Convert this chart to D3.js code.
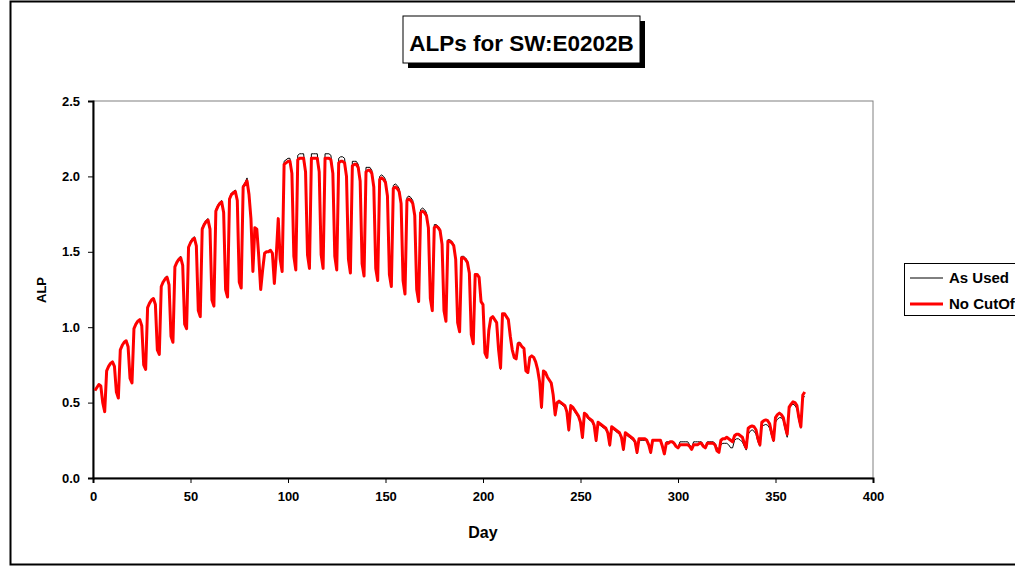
<!DOCTYPE html>
<html>
<head>
<meta charset="utf-8">
<script src="https://cdn.jsdelivr.net/npm/d3@7"></script>
<style>
  body { margin: 0; background: #fff; }
  svg text { font-family: Arial, "Liberation Sans", sans-serif; font-weight: bold; }
</style>
</head>
<body>
<svg id="chart" width="1015" height="567"></svg>
<script>
// days 1..365, one row per week (Mon..Sun), week 0 starts on day 1
const asUsed = [
  0.58, 0.60, 0.62, 0.61, 0.50, 0.44,
  0.71, 0.74, 0.76, 0.77, 0.74, 0.57, 0.53,
  0.85, 0.88, 0.90, 0.91, 0.87, 0.66, 0.63,
  0.99, 1.02, 1.04, 1.05, 1.01, 0.75, 0.72,
  1.13, 1.16, 1.18, 1.19, 1.15, 0.85, 0.82,
  1.27, 1.30, 1.33, 1.34, 1.28, 0.94, 0.90,
  1.40, 1.43, 1.46, 1.47, 1.41, 1.02, 0.99,
  1.53, 1.57, 1.59, 1.60, 1.54, 1.11, 1.07,
  1.66, 1.69, 1.71, 1.72, 1.65, 1.18, 1.14,
  1.78, 1.81, 1.83, 1.84, 1.76, 1.25, 1.20,
  1.86, 1.89, 1.90, 1.91, 1.84, 1.30, 1.26,
  1.94, 1.96, 1.99, 1.89, 1.72, 1.37, 1.66,
  1.65, 1.47, 1.25, 1.38, 1.49, 1.50, 1.50,
  1.51, 1.49, 1.29, 1.48, 1.72, 1.45, 1.37,
  2.10, 2.11, 2.12, 2.12, 2.02, 1.47, 1.38,
  2.14, 2.15, 2.15, 2.15, 2.03, 1.48, 1.39,
  2.15, 2.15, 2.15, 2.15, 2.03, 1.48, 1.39,
  2.15, 2.15, 2.15, 2.14, 2.02, 1.47, 1.38,
  2.12, 2.13, 2.13, 2.12, 2.00, 1.45, 1.36,
  2.10, 2.10, 2.10, 2.08, 1.97, 1.42, 1.34,
  2.06, 2.06, 2.06, 2.04, 1.93, 1.39, 1.31,
  2.00, 2.01, 2.00, 1.98, 1.87, 1.35, 1.27,
  1.94, 1.95, 1.94, 1.92, 1.82, 1.31, 1.22,
  1.86, 1.87, 1.86, 1.84, 1.74, 1.25, 1.17,
  1.78, 1.79, 1.78, 1.76, 1.66, 1.19, 1.11,
  1.68, 1.68, 1.67, 1.65, 1.55, 1.11, 1.04,
  1.58, 1.58, 1.57, 1.55, 1.45, 1.03, 0.97,
  1.47, 1.47, 1.46, 1.44, 1.36, 0.95, 0.89,
  1.35, 1.35, 1.33, 1.17, 1.15, 0.83, 0.80,
  0.98, 1.06, 1.07, 1.05, 1.03, 0.85, 0.72,
  1.09, 1.09, 1.07, 1.05, 0.94, 0.85, 0.79,
  0.80, 0.90, 0.90, 0.87, 0.86, 0.71, 0.69,
  0.80, 0.81, 0.80, 0.77, 0.72, 0.63, 0.46,
  0.71, 0.70, 0.67, 0.65, 0.63, 0.54, 0.41,
  0.49, 0.50, 0.49, 0.48, 0.47, 0.43, 0.31,
  0.47, 0.46, 0.44, 0.42, 0.40, 0.36, 0.26,
  0.42, 0.41, 0.39, 0.38, 0.37, 0.34, 0.24,
  0.36, 0.35, 0.34, 0.33, 0.32, 0.29, 0.21,
  0.33, 0.32, 0.31, 0.30, 0.29, 0.26, 0.18,
  0.29, 0.28, 0.27, 0.26, 0.25, 0.23, 0.16,
  0.25, 0.25, 0.25, 0.25, 0.25, 0.22, 0.16,
  0.25, 0.25, 0.25, 0.25, 0.25, 0.21, 0.16,
  0.24, 0.24, 0.24, 0.24, 0.24, 0.21, 0.20,
  0.24, 0.24, 0.24, 0.24, 0.24, 0.22, 0.20,
  0.24, 0.24, 0.24, 0.24, 0.24, 0.22, 0.20,
  0.24, 0.24, 0.24, 0.24, 0.23, 0.20, 0.19,
  0.22, 0.23, 0.23, 0.23, 0.22, 0.20, 0.20,
  0.25, 0.26, 0.26, 0.25, 0.24, 0.21, 0.185,
  0.29, 0.31, 0.32, 0.31, 0.29, 0.24, 0.21,
  0.34, 0.35, 0.355, 0.35, 0.33, 0.28, 0.24,
  0.37, 0.39, 0.40, 0.40, 0.38, 0.32, 0.27,
  0.46, 0.48, 0.49, 0.48, 0.46, 0.38, 0.33,
  0.535, 0.54
];

const noCutOff = [
  0.58, 0.60, 0.62, 0.61, 0.50, 0.44,
  0.71, 0.74, 0.76, 0.77, 0.74, 0.57, 0.53,
  0.85, 0.88, 0.90, 0.91, 0.87, 0.66, 0.63,
  0.99, 1.02, 1.04, 1.05, 1.01, 0.75, 0.72,
  1.13, 1.16, 1.18, 1.19, 1.15, 0.85, 0.82,
  1.27, 1.30, 1.32, 1.33, 1.28, 0.94, 0.90,
  1.40, 1.43, 1.45, 1.46, 1.41, 1.02, 0.99,
  1.53, 1.56, 1.58, 1.59, 1.54, 1.11, 1.07,
  1.65, 1.68, 1.70, 1.71, 1.65, 1.18, 1.14,
  1.77, 1.80, 1.82, 1.83, 1.76, 1.25, 1.20,
  1.85, 1.88, 1.89, 1.90, 1.84, 1.30, 1.26,
  1.93, 1.95, 1.97, 1.88, 1.72, 1.37, 1.66,
  1.65, 1.47, 1.25, 1.38, 1.49, 1.50, 1.50,
  1.51, 1.49, 1.29, 1.48, 1.72, 1.45, 1.37,
  2.08, 2.09, 2.10, 2.10, 2.02, 1.47, 1.38,
  2.11, 2.12, 2.12, 2.12, 2.03, 1.48, 1.39,
  2.12, 2.12, 2.12, 2.12, 2.03, 1.48, 1.39,
  2.12, 2.12, 2.12, 2.11, 2.02, 1.47, 1.38,
  2.09, 2.10, 2.10, 2.09, 2.00, 1.45, 1.36,
  2.07, 2.08, 2.08, 2.06, 1.97, 1.42, 1.34,
  2.03, 2.04, 2.04, 2.02, 1.93, 1.39, 1.31,
  1.98, 1.99, 1.98, 1.96, 1.87, 1.35, 1.27,
  1.92, 1.93, 1.92, 1.90, 1.82, 1.31, 1.22,
  1.84, 1.85, 1.84, 1.82, 1.74, 1.25, 1.17,
  1.76, 1.77, 1.76, 1.74, 1.66, 1.19, 1.11,
  1.66, 1.67, 1.66, 1.64, 1.55, 1.11, 1.04,
  1.57, 1.57, 1.56, 1.54, 1.45, 1.03, 0.97,
  1.46, 1.46, 1.45, 1.43, 1.36, 0.95, 0.89,
  1.35, 1.35, 1.33, 1.17, 1.15, 0.83, 0.80,
  0.98, 1.06, 1.07, 1.05, 1.03, 0.85, 0.73,
  1.09, 1.09, 1.07, 1.05, 0.94, 0.85, 0.80,
  0.79, 0.89, 0.89, 0.87, 0.86, 0.71, 0.70,
  0.80, 0.81, 0.80, 0.77, 0.72, 0.64, 0.47,
  0.71, 0.70, 0.67, 0.65, 0.63, 0.55, 0.42,
  0.50, 0.51, 0.50, 0.49, 0.48, 0.44, 0.32,
  0.48, 0.47, 0.45, 0.43, 0.41, 0.37, 0.27,
  0.43, 0.42, 0.40, 0.39, 0.38, 0.35, 0.25,
  0.37, 0.36, 0.35, 0.34, 0.33, 0.30, 0.22,
  0.34, 0.33, 0.32, 0.31, 0.30, 0.27, 0.19,
  0.30, 0.29, 0.28, 0.27, 0.26, 0.24, 0.17,
  0.26, 0.26, 0.26, 0.26, 0.25, 0.22, 0.17,
  0.25, 0.25, 0.25, 0.25, 0.25, 0.21, 0.16,
  0.23, 0.23, 0.24, 0.24, 0.23, 0.21, 0.20,
  0.22, 0.22, 0.22, 0.22, 0.22, 0.21, 0.19,
  0.22, 0.22, 0.22, 0.23, 0.23, 0.21, 0.20,
  0.23, 0.23, 0.23, 0.23, 0.22, 0.18, 0.17,
  0.25, 0.26, 0.26, 0.27, 0.26, 0.25, 0.24,
  0.28, 0.29, 0.29, 0.28, 0.27, 0.23, 0.20,
  0.33, 0.34, 0.345, 0.34, 0.32, 0.26, 0.22,
  0.37, 0.38, 0.385, 0.38, 0.36, 0.30, 0.25,
  0.40, 0.42, 0.43, 0.42, 0.40, 0.34, 0.29,
  0.47, 0.49, 0.505, 0.50, 0.48, 0.40, 0.34,
  0.55, 0.57
];

const xTicks = [0, 50, 100, 150, 200, 250, 300, 350, 400];
const yTicks = [0, 0.5, 1.0, 1.5, 2.0, 2.5];
const seriesNames = ["As Used", "No CutOff"];

const svg = d3.select("#chart");

// outer chart frame
svg.append("rect")
  .attr("x", 10.5).attr("y", 1.5)
  .attr("width", 1020).attr("height", 563)
  .attr("fill", "#fff")
  .attr("stroke", "#000")
  .attr("stroke-width", 2);

const x = d3.scaleLinear().domain([0, 400]).range([93, 873]);
const y = d3.scaleLinear().domain([0, 2.5]).range([478, 101]);

// plot area border
svg.append("rect")
  .attr("x", 93).attr("y", 101)
  .attr("width", 780).attr("height", 377)
  .attr("fill", "none")
  .attr("stroke", "#808080")
  .attr("stroke-width", 1);

const xAxis = svg.append("g")
  .attr("transform", "translate(0,478)")
  .call(d3.axisBottom(x).tickValues(xTicks).tickSize(5).tickPadding(9).tickFormat(d3.format("d")));

const yAxis = svg.append("g")
  .attr("transform", "translate(93,0)")
  .call(d3.axisLeft(y).tickValues(yTicks).tickSize(5).tickPadding(8).tickFormat(d3.format(".1f")));

[xAxis, yAxis].forEach(g => {
  g.select(".domain").attr("stroke", "#000").attr("stroke-width", 2);
  g.selectAll(".tick line").attr("stroke", "#000");
  g.selectAll("text")
    .attr("fill", "#000")
    .style("font-size", "13px")
    .style("font-weight", "bold");
});

const days = noCutOff.map((d, i) => i + 1);

const line = d3.line()
  .x((d, i) => x(days[i]))
  .y(d => y(d));

svg.append("path")
  .datum(asUsed)
  .attr("fill", "none")
  .attr("stroke", "#000")
  .attr("stroke-width", 1)
  .attr("d", line);

svg.append("path")
  .datum(noCutOff)
  .attr("fill", "none")
  .attr("stroke", "#ff0000")
  .attr("stroke-width", 3)
  .attr("stroke-linejoin", "round")
  .attr("d", line);

// axis titles
svg.append("text")
  .attr("x", 483).attr("y", 538)
  .attr("text-anchor", "middle")
  .style("font-size", "16px")
  .text("Day");

svg.append("text")
  .attr("transform", "translate(46,290) rotate(-90)")
  .attr("text-anchor", "middle")
  .style("font-size", "13px")
  .text("ALP");

// title box with shadow
svg.append("rect")
  .attr("x", 408).attr("y", 21)
  .attr("width", 237).attr("height", 47)
  .attr("fill", "#000");
svg.append("rect")
  .attr("x", 403).attr("y", 16)
  .attr("width", 237).attr("height", 47)
  .attr("fill", "#fff")
  .attr("stroke", "#000")
  .attr("stroke-width", 1);
svg.append("text")
  .attr("x", 521.5).attr("y", 51)
  .attr("text-anchor", "middle")
  .style("font-size", "22.5px")
  .text("ALPs for SW:E0202B");

// legend
const legend = svg.append("g");
legend.append("rect")
  .attr("x", 904.5).attr("y", 263.5)
  .attr("width", 130).attr("height", 52)
  .attr("fill", "#fff")
  .attr("stroke", "#000")
  .attr("stroke-width", 1);

const legendRows = legend.selectAll("g.row")
  .data(seriesNames)
  .join("g")
  .attr("class", "row")
  .attr("transform", (d, i) => `translate(0,${278 + i * 26})`);

legendRows.append("line")
  .attr("x1", 910).attr("x2", 943)
  .attr("stroke", (d, i) => i === 0 ? "#000" : "#ff0000")
  .attr("stroke-width", (d, i) => i === 0 ? 1 : 3);

legendRows.append("text")
  .attr("x", 949).attr("y", 5)
  .style("font-size", "15px")
  .text(d => d);
</script>
</body>
</html>
